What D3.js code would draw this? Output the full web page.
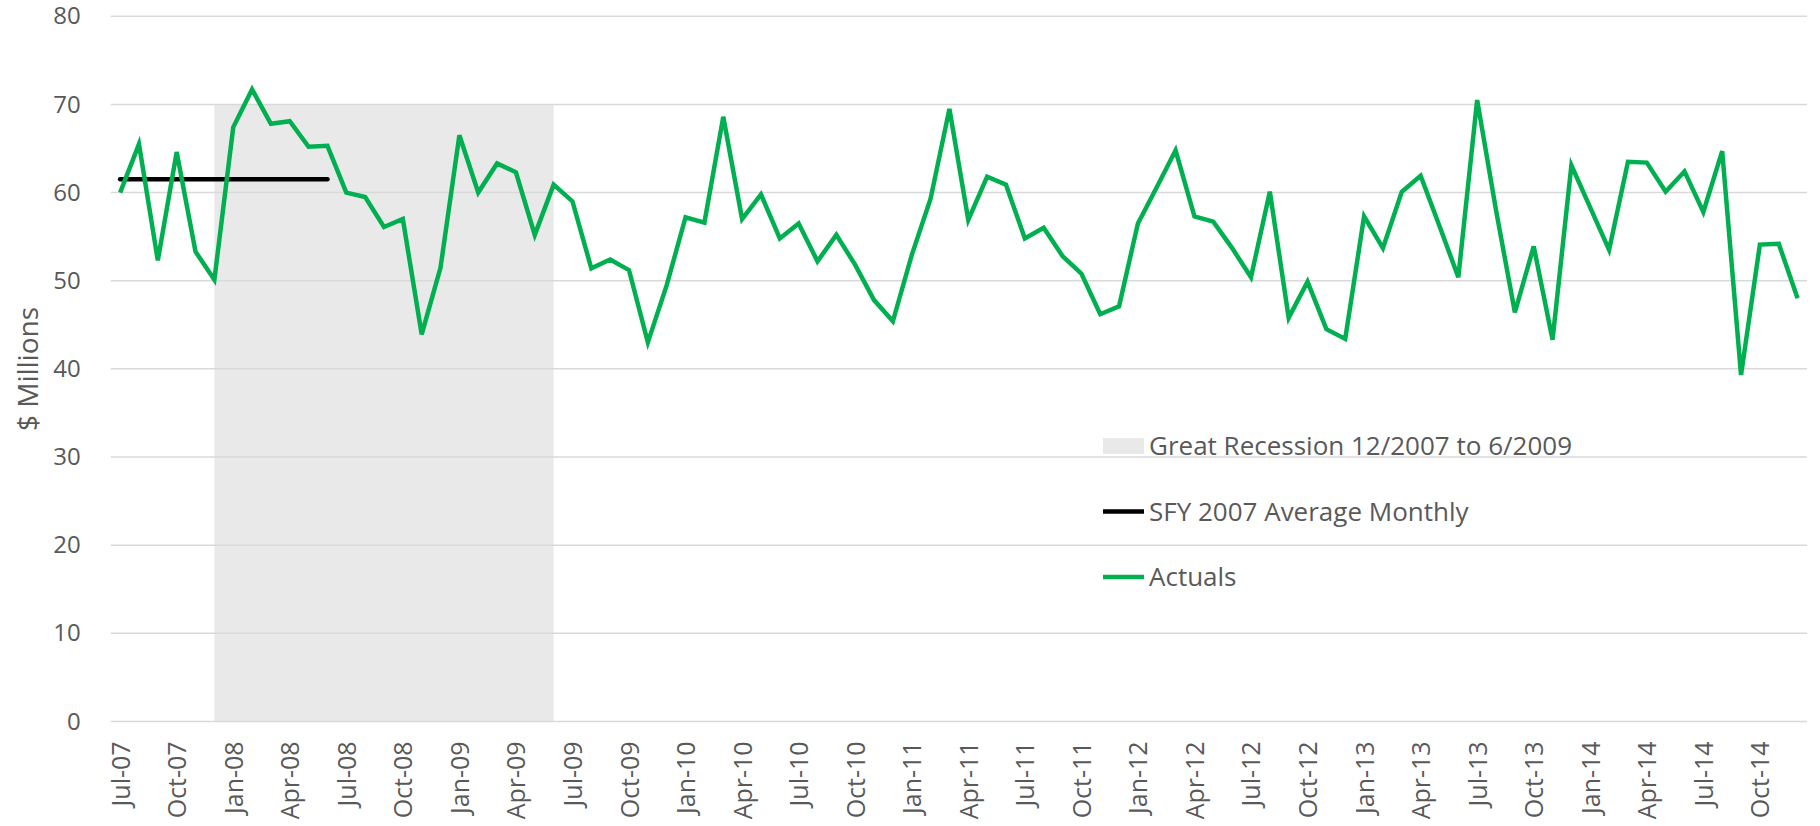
<!DOCTYPE html>
<meta charset="utf-8">

<style type="text/css">
  body {
    margin: 0;
    background: #fff;
    font-family: "Open Sans", sans-serif;
  }

  .grid line {
    stroke: #d9d9d9;
    stroke-width: 1.5px;
  }

  .axis text {
    fill: #595959;
    font-family: "Open Sans", sans-serif;
    font-size: 24px;
  }

  .x-axis text {
    font-size: 25px;
  }

  .legend text {
    fill: #595959;
    font-size: 26px;
  }
</style>

<body>
</body>

<script src="https://d3js.org/d3.v7.min.js"></script>
<script>
  // monthly actuals, Jul-07 .. Dec-14 ($ millions)
  var firstMonth = new Date(2007, 6, 1);
  var actuals = [
    60.0, 65.5, 52.3, 64.6, 53.3, 50.1, 67.4, 71.7, 67.8, 68.1, 65.2, 65.3,
    60.0, 59.5, 56.1, 57.0, 43.9, 51.5, 66.5, 60.0, 63.3, 62.3, 55.2, 60.9,
    59.0, 51.4, 52.4, 51.2, 43.0, 49.5, 57.2, 56.6, 68.6, 57.0, 59.8, 54.8,
    56.5, 52.2, 55.2, 51.8, 47.8, 45.4, 52.9, 59.3, 69.5, 56.9, 61.8, 60.9,
    54.8, 56.0, 52.8, 50.8, 46.2, 47.1, 56.5, 60.6, 64.8, 57.3, 56.7, 53.7,
    50.4, 60.1, 45.8, 49.9, 44.5, 43.4, 57.3, 53.7, 60.1, 61.9, 56.2, 50.4,
    70.5, 58.0, 46.4, 53.9, 43.3, 63.1, 58.3, 53.5, 63.5, 63.4, 60.1, 62.4,
    57.8, 64.7, 39.3, 54.1, 54.2, 48.0
  ];

  // SFY 2007 average monthly, drawn over Jul-07 .. Jun-08
  var sfyAverage = 61.5;
  var sfyMonths = ["Jul-07", "Jun-08"];

  // Great Recession band
  var recessionMonths = ["Dec-07", "Jun-09"];
  var recessionTop = 70;

  var yTicks = [0, 10, 20, 30, 40, 50, 60, 70, 80];
  var legendItems = [
    { label: "Great Recession 12/2007 to 6/2009", type: "band" },
    { label: "SFY 2007 Average Monthly", type: "sfy" },
    { label: "Actuals", type: "actual" }
  ];

  var colors = { actual: "#00b050", sfy: "#000000", band: "#e9e9e9" };

  var fmt = d3.timeFormat("%b-%y");
  var months = actuals.map(function(d, i) {
    return fmt(d3.timeMonth.offset(firstMonth, i));
  });
  var data = actuals.map(function(v, i) {
    return { month: months[i], value: v };
  });

  var width = 1820,
    height = 826,
    margin = { left: 110.7, right: 1807, top: 16.3, bottom: 721.4 };

  var x = d3.scalePoint().domain(months).range([margin.left, margin.right]).padding(0.5);
  var y = d3.scaleLinear().domain([0, 80]).range([margin.bottom, margin.top]);

  var svg = d3.select("body").append("svg")
    .attr("width", width)
    .attr("height", height);

  // recession shading
  svg.append("rect")
    .attr("x", x(recessionMonths[0]))
    .attr("y", y(recessionTop))
    .attr("width", x(recessionMonths[1]) - x(recessionMonths[0]))
    .attr("height", y(0) - y(recessionTop))
    .style("fill", colors.band);

  // gridlines
  svg.append("g")
    .attr("class", "grid")
    .selectAll("line")
    .data(yTicks)
    .enter().append("line")
    .attr("x1", margin.left)
    .attr("x2", margin.right)
    .attr("y1", function(d) { return y(d); })
    .attr("y2", function(d) { return y(d); });

  // y axis labels
  var yAxis = d3.axisLeft(y).tickValues(yTicks).tickSize(0).tickPadding(30);
  svg.append("g")
    .attr("class", "axis y-axis")
    .attr("transform", "translate(" + margin.left + ",0)")
    .call(yAxis)
    .call(function(g) { g.select(".domain").remove(); });

  // x axis labels every 3rd month
  var xAxis = d3.axisBottom(x)
    .tickValues(months.filter(function(d, i) { return i % 3 === 0; }))
    .tickSize(0);
  svg.append("g")
    .attr("class", "axis x-axis")
    .attr("transform", "translate(0," + margin.bottom + ")")
    .call(xAxis)
    .call(function(g) { g.select(".domain").remove(); })
    .selectAll("text")
    .attr("transform", "rotate(-90)")
    .attr("x", -20)
    .attr("y", 0)
    .attr("dy", "0.36em")
    .style("text-anchor", "end");

  // y title
  svg.append("text")
    .attr("transform", "translate(28,369) rotate(-90)")
    .attr("dy", "0.36em")
    .style("text-anchor", "middle")
    .style("fill", "#595959")
    .style("font-size", "28px")
    .text("$ Millions");

  // SFY average line
  svg.append("line")
    .attr("x1", x(sfyMonths[0]))
    .attr("x2", x(sfyMonths[1]))
    .attr("y1", y(sfyAverage))
    .attr("y2", y(sfyAverage))
    .style("stroke", colors.sfy)
    .style("stroke-width", 4.5)
    .style("stroke-linecap", "round");

  // actuals line
  var line = d3.line()
    .x(function(d) { return x(d.month); })
    .y(function(d) { return y(d.value); });

  svg.append("path")
    .datum(data)
    .attr("d", line)
    .style("fill", "none")
    .style("stroke", colors.actual)
    .style("stroke-width", 4.5);

  // legend
  var legend = svg.append("g")
    .attr("class", "legend")
    .attr("transform", "translate(1103,446)");

  var item = legend.selectAll("g")
    .data(legendItems)
    .enter().append("g")
    .attr("transform", function(d, i) { return "translate(0," + (i * 65.5) + ")"; });

  item.filter(function(d) { return d.type === "band"; })
    .append("rect")
    .attr("x", 0)
    .attr("y", -8)
    .attr("width", 41)
    .attr("height", 16)
    .style("fill", colors.band);

  item.filter(function(d) { return d.type !== "band"; })
    .append("line")
    .attr("x1", 0)
    .attr("x2", 41)
    .style("stroke", function(d) { return colors[d.type]; })
    .style("stroke-width", 4.5);

  item.append("text")
    .attr("x", 46)
    .attr("dy", "0.36em")
    .text(function(d) { return d.label; });
</script>
